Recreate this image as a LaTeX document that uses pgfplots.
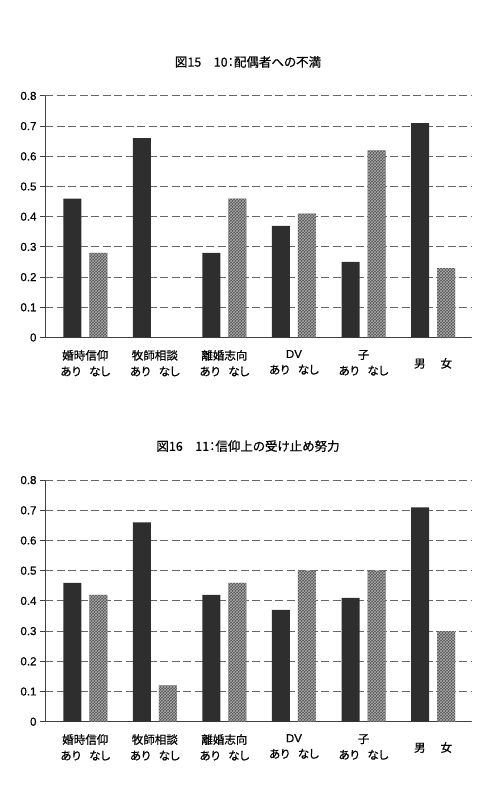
\documentclass[border=0pt]{standalone}
\usepackage{pgfplots}
\pgfplotsset{compat=1.18}
\usetikzlibrary{patterns}
\usepackage{fontspec}
\setmainfont{Liberation Sans}
\newfontfamily\jp[RawFeature=+palt, FakeBold=0.6]{Noto Sans CJK JP}
\newfontfamily\lat[FakeBold=0.6]{Liberation Sans}
\pgfplotsset{
  mychart/.style={
    x=69.56pt, y=302pt,
    xmin=-0.579, xmax=5.546, ymin=0, ymax=0.8,
    anchor=south west,
    axis x line=bottom, axis y line=left,
    axis line style={-, black!75, line width=0.8pt},
    ytick={0,0.1,0.2,0.3,0.4,0.5,0.6,0.7,0.8},
    yticklabels={0,0.1,0.2,0.3,0.4,0.5,0.6,0.7,0.8},
    /pgf/number format/assume math mode=true,
    tick align=outside, major tick length=5pt,
    ytick style={black!75, line width=0.8pt},
    xtick={0,1,2,3,4,5},
    xtick style={draw=none},
    xticklabels={{婚時信仰\\あり\hspace{0.7em}なし},{牧師相談\\あり\hspace{0.7em}なし},{離婚志向\\あり\hspace{0.7em}なし},{{\lat DV}\\あり\hspace{0.7em}なし},{子\\あり\hspace{0.7em}なし},{\raisebox{-8pt}[\height][0pt]{男\hspace{15pt}女}}},
    xticklabel style={font=\jp\fontsize{11.5}{16}\selectfont, align=center, yshift=-4pt},
    yticklabel style={font=\lat\fontsize{11.5}{13}\selectfont},
    ymajorgrids,
    grid style={black!60, dash pattern=on 8pt off 3.5pt, line width=0.8pt},
    title style={font=\jp\fontsize{12.5}{14}\selectfont, at={(axis description cs:0.4765,1)}, anchor=center, yshift=28pt},
    clip=false,
  },
  darkbar/.style={ybar, bar width=18pt, bar shift=0pt, fill=black!82, draw=none},
  hatchbar/.style={ybar, bar width=18pt, bar shift=0pt, fill=black!68, draw=none,
    postaction={pattern=crosshatch, pattern color=black!32}},
}
\begin{document}
\begin{tikzpicture}
\useasboundingbox (0,0) rectangle (479pt,801pt);
\begin{axis}[mychart, at={(45pt,463.5pt)}, title={図15　10：配偶者への不満}]
\addplot[darkbar] coordinates {(-0.187,0.46) (0.813,0.66) (1.813,0.28) (2.813,0.37) (3.813,0.25) (4.813,0.71)};
\addplot[hatchbar] coordinates {(0.187,0.28) (2.187,0.46) (3.187,0.41) (4.187,0.62) (5.187,0.23)};
\end{axis}
\begin{axis}[mychart, at={(45pt,79.3pt)}, title={図16　11：信仰上の受け止め努力}]
\addplot[darkbar] coordinates {(-0.187,0.46) (0.813,0.66) (1.813,0.42) (2.813,0.37) (3.813,0.41) (4.813,0.71)};
\addplot[hatchbar] coordinates {(0.187,0.42) (1.187,0.12) (2.187,0.46) (3.187,0.50) (4.187,0.50) (5.187,0.30)};
\end{axis}
\end{tikzpicture}
\end{document}
